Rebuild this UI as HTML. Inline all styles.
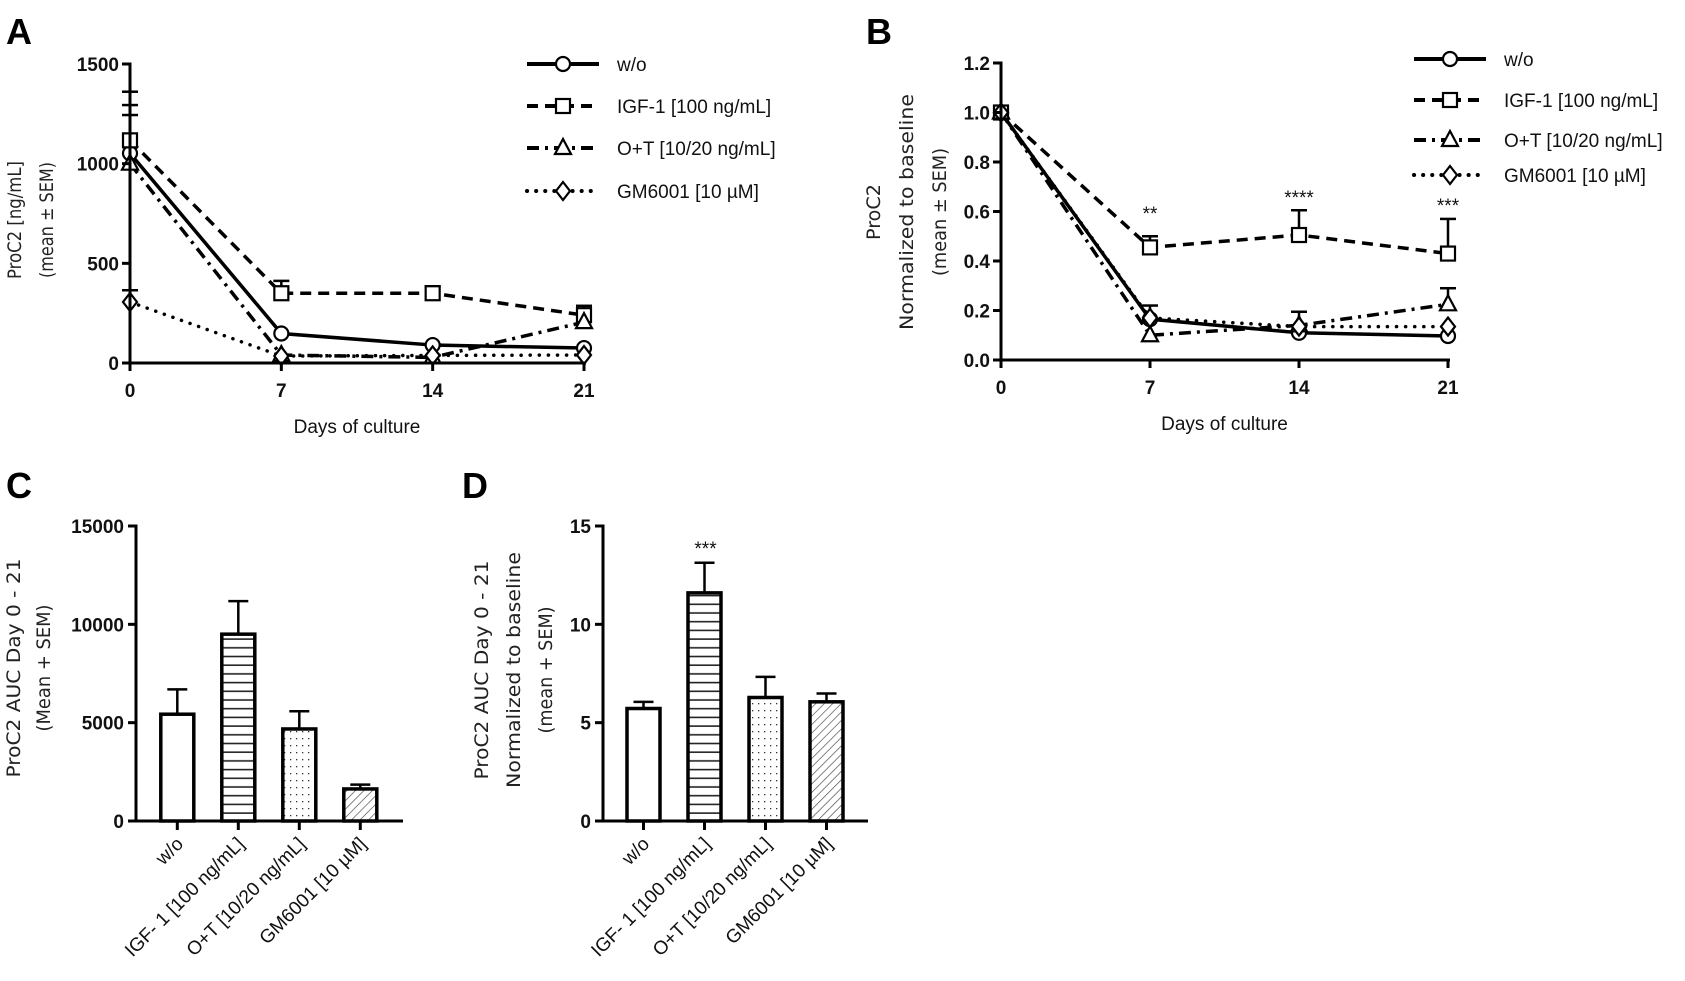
<!DOCTYPE html>
<html><head><meta charset="utf-8"><style>
html,body{margin:0;padding:0;background:#fff}
svg{display:block}
.tick{font-family:"Liberation Sans",sans-serif;font-weight:bold;font-size:19px;fill:#111}
.lab{font-family:"DejaVu Sans","Liberation Sans",sans-serif;font-size:19px;fill:#222}
.leg{font-family:"Liberation Sans",sans-serif;font-size:19px;fill:#111}
.pl{font-family:"Liberation Sans",sans-serif;font-weight:bold;font-size:36px;fill:#000}
</style></head><body>
<svg id="fig" width="1685" height="981" viewBox="0 0 1685 981" xmlns="http://www.w3.org/2000/svg">
<defs>
<pattern id="hlines" width="10" height="8.7" patternUnits="userSpaceOnUse"><rect width="10" height="8.7" fill="#fff"/><line x1="0" y1="4" x2="10" y2="4" stroke="#222" stroke-width="1.6"/></pattern>
<pattern id="dots" width="6" height="7" patternUnits="userSpaceOnUse"><rect width="6" height="7" fill="#fff"/><rect x="2" y="3" width="1.3" height="1.3" fill="#333"/></pattern>
<pattern id="hatch" width="6" height="6" patternUnits="userSpaceOnUse" patternTransform="rotate(45)"><rect width="6" height="6" fill="#fff"/><line x1="0" y1="0" x2="0" y2="6" stroke="#444" stroke-width="1.3"/></pattern>
</defs>
<text class="pl" x="6" y="44">A</text>
<text class="pl" x="866" y="44">B</text>
<text class="pl" x="6" y="498">C</text>
<text class="pl" x="462" y="498">D</text>
</svg>
<script>
const days = [0, 7, 14, 21];
const seriesNames = ["w/o", "IGF-1 [100 ng/mL]", "O+T [10/20 ng/mL]", "GM6001 [10 \u00b5M]"];
const A_wo = [1052, 148, 90, 75];
const A_igf = [1117, 350, 350, 240];
const A_ot = [1000, 40, 28, 205];
const A_gm = [306, 35, 38, 40];
const A_wo_err = [1294, null, null, null];
const A_igf_err = [1361, 412, 385, 287];
const A_ot_err = [1244, null, null, null];
const A_gm_err = [365, null, null, null];
const A_ticks = [0, 500, 1000, 1500];
const B_wo = [1, 0.165, 0.11, 0.097];
const B_igf = [1, 0.455, 0.505, 0.43];
const B_ot = [1, 0.10, 0.14, 0.225];
const B_gm = [1, 0.17, 0.135, 0.135];
const B_wo_err = [null, 0.22, null, null];
const B_igf_err = [null, 0.50, 0.605, 0.57];
const B_ot_err = [null, null, 0.195, 0.29];
const B_gm_err = [null, null, null, null];
const B_ticks = [0, 0.2, 0.4, 0.6, 0.8, 1.0, 1.2];
const B_stars = ["", "**", "****", "***"];
const barCats = ["w/o", "IGF- 1 [100 ng/mL]", "O+T [10/20 ng/mL]", "GM6001 [10 \u00b5M]"];
const C_vals = [5430, 9500, 4680, 1630];
const C_err = [6690, 11180, 5580, 1850];
const C_ticks = [0, 5000, 10000, 15000];
const D_vals = [5.72, 11.6, 6.28, 6.06];
const D_err = [6.06, 13.13, 7.33, 6.48];
const D_ticks = [0, 5, 10, 15];
const D_stars = ["", "***", "", ""];

const NS = "http://www.w3.org/2000/svg";
const svg = document.getElementById("fig");
function mk(tag, attrs, parent) {
  const e = document.createElementNS(NS, tag);
  for (const k in attrs) e.setAttribute(k, attrs[k]);
  (parent || svg).appendChild(e);
  return e;
}
const styles = [
  {dash: "", w: 3.5, marker: "circle"},
  {dash: "11,7", w: 3.5, marker: "square"},
  {dash: "12,6,3,6", w: 3.5, marker: "triangle"},
  {dash: "0.1,9", w: 3.5, marker: "diamond", cap: "round"}
];
function marker(type, x, y, g) {
  let m;
  if (type === "circle") m = mk("circle", {cx: x, cy: y, r: 7}, g);
  else if (type === "square") m = mk("rect", {x: x - 7, y: y - 7, width: 14, height: 14}, g);
  else if (type === "triangle") m = mk("polygon", {points: `${x},${y-9} ${x-8},${y+6} ${x+8},${y+6}`}, g);
  else m = mk("polygon", {points: `${x},${y-9} ${x+7},${y} ${x},${y+9} ${x-7},${y}`}, g);
  m.setAttribute("fill", "#fff"); m.setAttribute("stroke", "#000"); m.setAttribute("stroke-width", "2.2");
  return m;
}
function yTitle(lines, xs, cy, lens, name) {
  lines.forEach((t, i) => {
    const e = mk("text", {class: "lab", x: xs[i], y: cy, "text-anchor": "middle", transform: `rotate(-90 ${xs[i]} ${cy})`, textLength: lens[i], lengthAdjust: "spacingAndGlyphs", dy: "7"});
    e.textContent = t;
    
    
  });
}
function lineChart(cfg) {
  const g = mk("g", {});
  
  
  const X = d => cfg.x0 + (d / 21) * (cfg.x1 - cfg.x0);
  const Y = v => cfg.y0 - (v / cfg.ymax) * (cfg.y0 - cfg.y1);
  cfg.series.forEach((s, si) => {
    const st = styles[si];
    const sg = mk("g", {}, g);
    
    
    s.err.forEach((e, i) => {
      if (e == null) return;
      mk("line", {x1: X(days[i]), y1: Y(s.v[i]), x2: X(days[i]), y2: Y(e), stroke: "#000", "stroke-width": 2.5}, sg);
      mk("line", {x1: X(days[i]) - 8, y1: Y(e), x2: X(days[i]) + 8, y2: Y(e), stroke: "#000", "stroke-width": 2.5}, sg);
    });
    const pts = s.v.map((v, i) => X(days[i]) + "," + Y(v)).join(" ");
    mk("polyline", {points: pts, fill: "none", stroke: "#000", "stroke-width": st.w, "stroke-dasharray": st.dash, "stroke-linecap": st.cap || "butt"}, sg);
    s.v.forEach((v, i) => {
      const m = marker(st.marker, X(days[i]), Y(v), sg);
      
      
    });
  });
  mk("line", {x1: cfg.x0, y1: cfg.y0, x2: cfg.x1 + 2, y2: cfg.y0, stroke: "#000", "stroke-width": 3}, g);
  mk("line", {x1: cfg.x0, y1: cfg.y0 + 8, x2: cfg.x0, y2: cfg.y1 - 1.5, stroke: "#000", "stroke-width": 3}, g);
  cfg.ticks.forEach(t => {
    mk("line", {x1: cfg.x0 - 8, y1: Y(t), x2: cfg.x0, y2: Y(t), stroke: "#000", "stroke-width": 3}, g);
    const tx = mk("text", {class: "tick", x: cfg.x0 - 11, y: Y(t) + 7, "text-anchor": "end"}, g);
    tx.textContent = cfg.fmt(t);
    
    
  });
  days.forEach(d => {
    mk("line", {x1: X(d), y1: cfg.y0, x2: X(d), y2: cfg.y0 + 8, stroke: "#000", "stroke-width": 3}, g);
    const tx = mk("text", {class: "tick", x: X(d), y: cfg.y0 + 34, "text-anchor": "middle"}, g);
    tx.textContent = d;
    
    
  });
  const xt = mk("text", {class: "leg", x: (cfg.x0 + cfg.x1) / 2, y: cfg.y0 + 70, "text-anchor": "middle", "font-size": "21"}, g);
  xt.textContent = "Days of culture";
  
  
  if (cfg.stars) cfg.stars.forEach((s, i) => {
    if (!s) return;
    const st = mk("text", {class: "leg", x: X(days[i]), y: cfg.starY[i], "text-anchor": "middle", "font-size": "17"}, g);
    st.textContent = s;
    
    
  });
  seriesNames.forEach((n, i) => {
    const st = styles[i];
    const y = cfg.legY[i];
    const lg = mk("g", {}, g);
    
    
    mk("line", {x1: cfg.legX, y1: y, x2: cfg.legX + 72, y2: y, stroke: "#000", "stroke-width": st.w + 0.5, "stroke-dasharray": st.dash, "stroke-linecap": st.cap || "butt"}, lg);
    marker(st.marker, cfg.legX + 36, y, lg);
    const t = mk("text", {class: "leg", x: cfg.legX + 90, y: y + 7}, lg);
    t.textContent = n;
  });
}
lineChart({name: "chart-a", x0: 130, x1: 584, y0: 363, y1: 64, ymax: 1500, ticks: A_ticks, fmt: t => String(t),
  series: [{v: A_wo, err: A_wo_err}, {v: A_igf, err: A_igf_err}, {v: A_ot, err: A_ot_err}, {v: A_gm, err: A_gm_err}],
  legX: 527, legY: [64, 106, 148, 191]});
yTitle(["ProC2 [ng/mL]", "(mean \u00b1 SEM)"], [14, 46], 220, [118, 116], "y-axis-title-a");
lineChart({name: "chart-b", x0: 1001, x1: 1448, y0: 360, y1: 63, ymax: 1.2, ticks: B_ticks, fmt: t => t.toFixed(1),
  series: [{v: B_wo, err: B_wo_err}, {v: B_igf, err: B_igf_err}, {v: B_ot, err: B_ot_err}, {v: B_gm, err: B_gm_err}],
  legX: 1414, legY: [59, 100, 140, 175], stars: B_stars, starY: [0, 220, 204, 212]});
yTitle(["ProC2", "Normalized to baseline", "(mean \u00b1 SEM)"], [873, 906, 939], 212, [56, 236, 128], "y-axis-title-b");

function barChart(cfg) {
  const g = mk("g", {});
  
  
  const Y = v => cfg.y0 - (v / cfg.ymax) * (cfg.y0 - cfg.y1);
  const fills = ["#fff", "url(#hlines)", "url(#dots)", "url(#hatch)"];
  cfg.vals.forEach((v, i) => {
    const cx = cfg.cx0 + i * cfg.step;
    mk("line", {x1: cx, y1: Y(v), x2: cx, y2: Y(cfg.err[i]), stroke: "#000", "stroke-width": 2.5}, g);
    mk("line", {x1: cx - 10, y1: Y(cfg.err[i]), x2: cx + 10, y2: Y(cfg.err[i]), stroke: "#000", "stroke-width": 2.5}, g);
    const r = mk("rect", {x: cx - 16.5, y: Y(v), width: 33, height: cfg.y0 - Y(v), fill: fills[i], stroke: "#000", "stroke-width": 3.5}, g);
    
    
    mk("line", {x1: cx, y1: cfg.y0, x2: cx, y2: cfg.y0 + 9, stroke: "#000", "stroke-width": 3}, g);
    const t = mk("text", {class: "leg", x: cx + 7, y: cfg.y0 + 24, "text-anchor": "end", "font-size": "19.5", transform: `rotate(-45 ${cx + 7} ${cfg.y0 + 24})`}, g);
    t.textContent = barCats[i];
    
    
    if (cfg.stars && cfg.stars[i]) {
      const s = mk("text", {class: "leg", x: cx + 1, y: Y(cfg.err[i]) - 8, "text-anchor": "middle", "font-size": "26"}, g);
      s.textContent = cfg.stars[i];
      
      
    }
  });
  mk("line", {x1: cfg.x0, y1: cfg.y0, x2: cfg.x1, y2: cfg.y0, stroke: "#000", "stroke-width": 3}, g);
  mk("line", {x1: cfg.x0, y1: cfg.y0 + 1.5, x2: cfg.x0, y2: cfg.y1 - 1.5, stroke: "#000", "stroke-width": 3}, g);
  cfg.ticks.forEach(t => {
    mk("line", {x1: cfg.x0 - 8, y1: Y(t), x2: cfg.x0, y2: Y(t), stroke: "#000", "stroke-width": 3}, g);
    const tx = mk("text", {class: "tick", x: cfg.x0 - 12, y: Y(t) + 7, "text-anchor": "end"}, g);
    tx.textContent = t;
    
    
  });
}
barChart({name: "chart-c", x0: 136, x1: 403, y0: 821, y1: 526, ymax: 15000, ticks: C_ticks, vals: C_vals, err: C_err, cx0: 177.3, step: 61});
yTitle(["ProC2 AUC Day 0 - 21", "(Mean + SEM)"], [13, 43], 668, [219, 127], "y-axis-title-c");
barChart({name: "chart-d", x0: 603, x1: 868, y0: 821, y1: 526, ymax: 15, ticks: D_ticks, vals: D_vals, err: D_err, cx0: 643.5, step: 61, stars: D_stars});
yTitle(["ProC2 AUC Day 0 - 21", "Normalized to baseline", "(mean + SEM)"], [481, 513, 545], 670, [219, 236, 127], "y-axis-title-d");
</script>
</body></html>
